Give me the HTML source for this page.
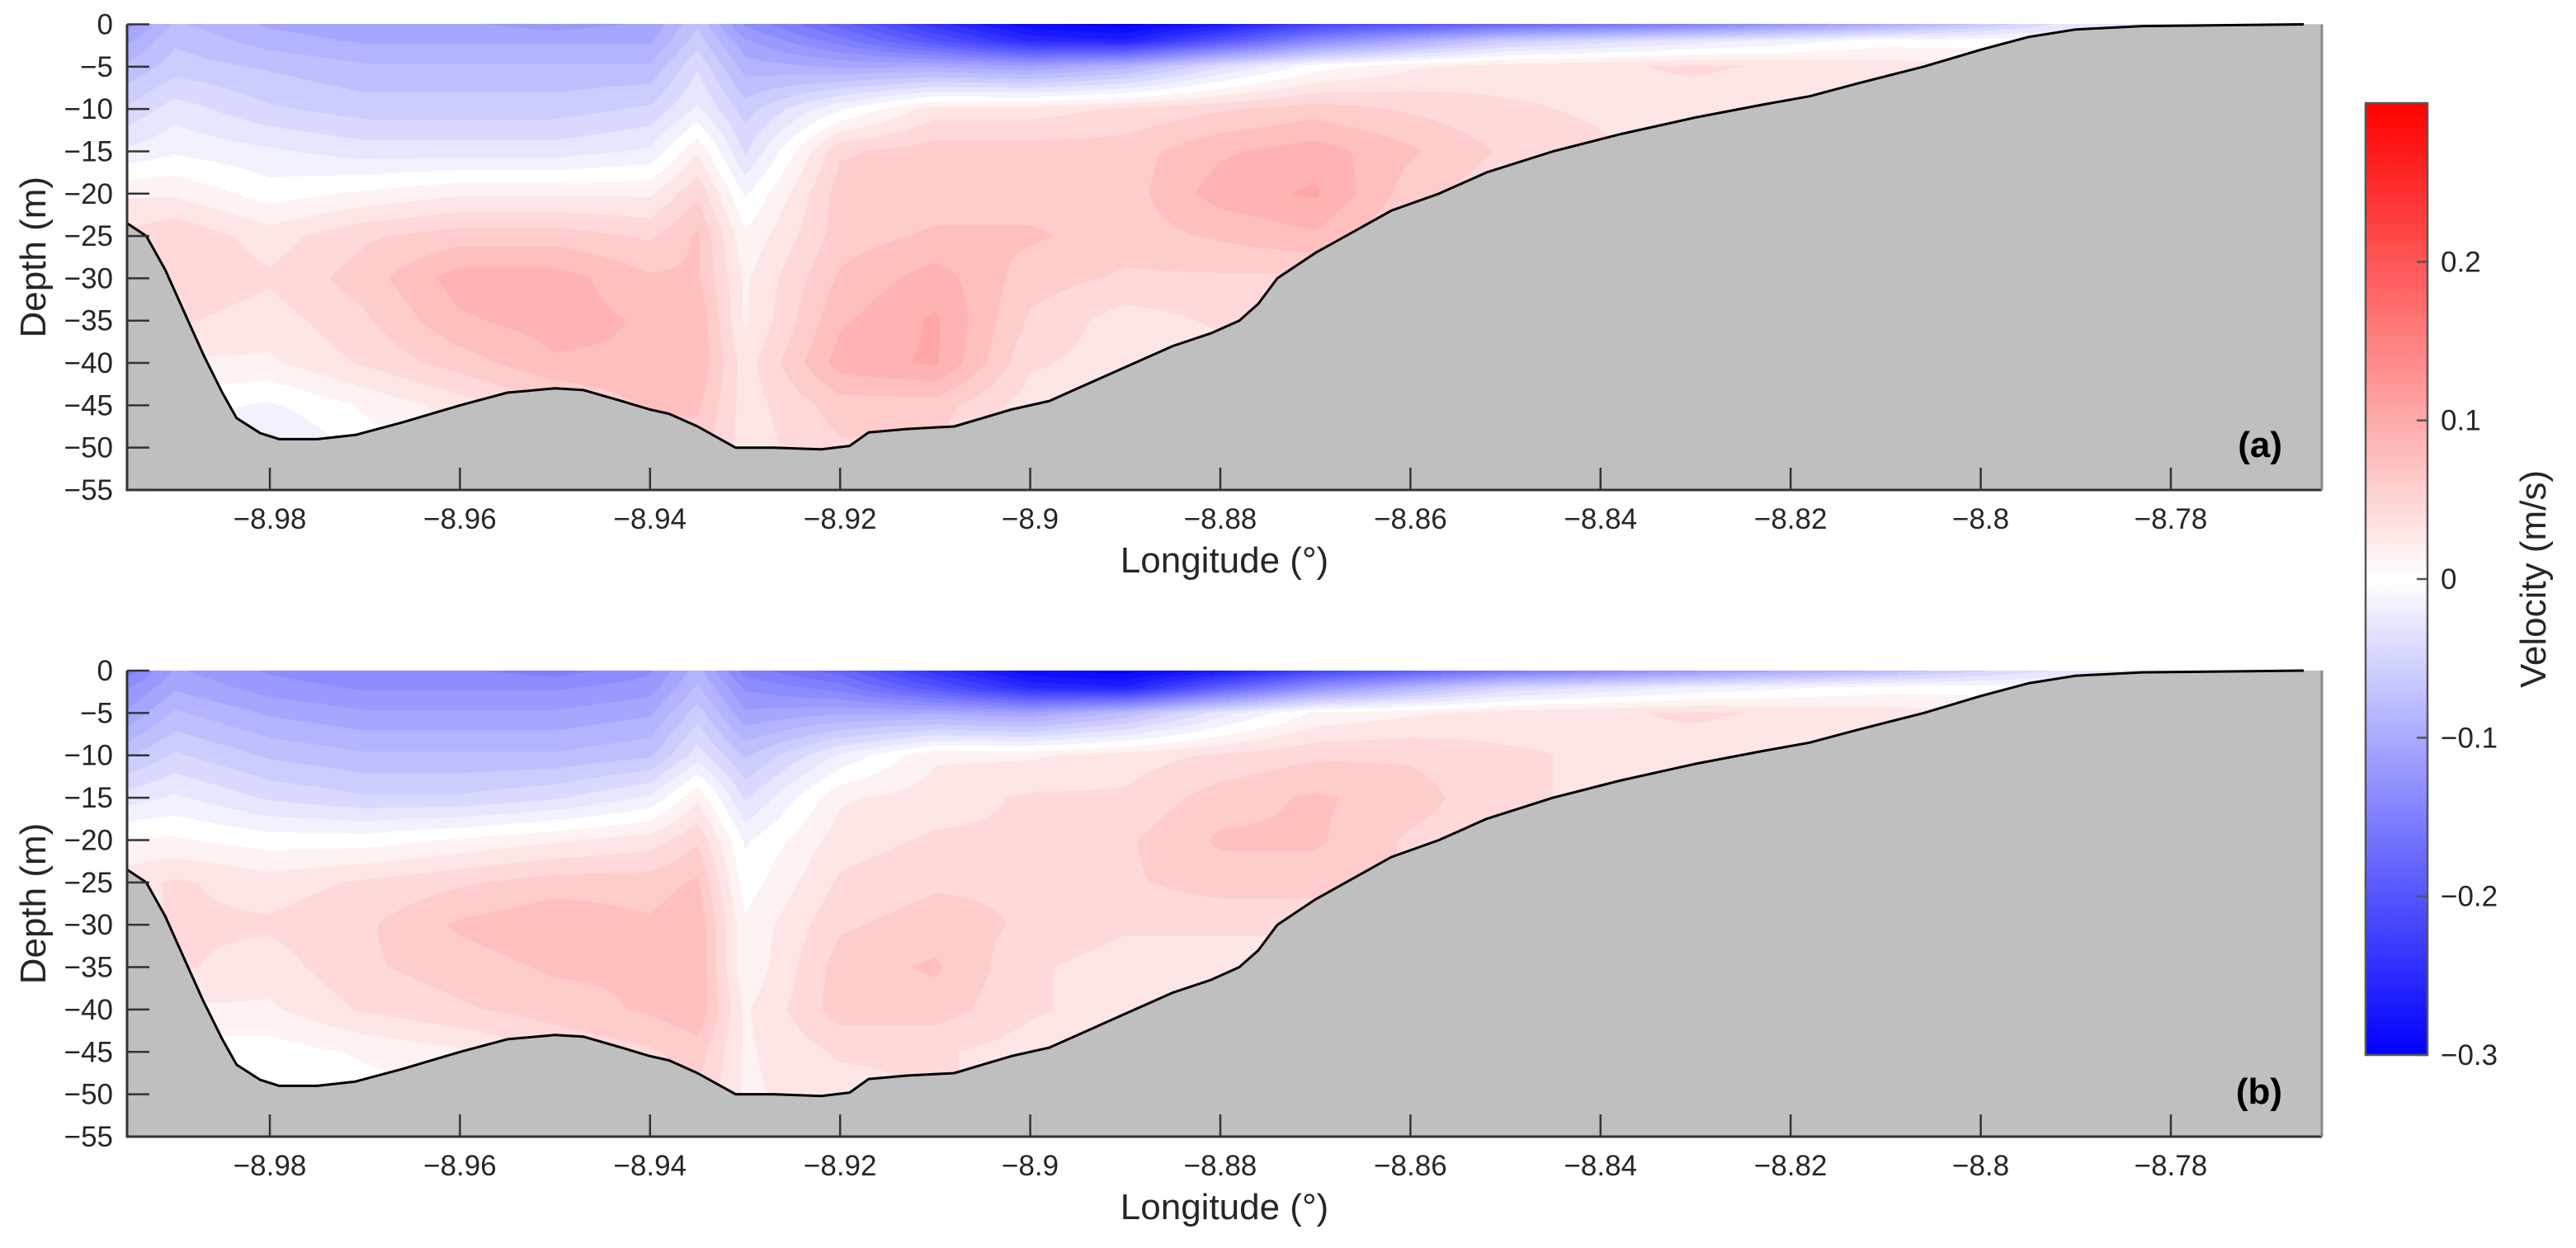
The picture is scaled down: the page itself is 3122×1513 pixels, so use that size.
<!DOCTYPE html>
<html><head><meta charset="utf-8">
<style>
html,body{margin:0;padding:0;background:#fff;}
body{width:3122px;height:1513px;position:relative;overflow:hidden;font-family:"Liberation Sans",sans-serif;}
canvas{position:absolute;}
svg{position:absolute;left:0;top:0;}
</style></head>
<body>
<canvas id="fieldA" width="2660" height="565" style="left:154px;top:29px"></canvas>
<canvas id="fieldB" width="2660" height="565" style="left:154px;top:813px"></canvas>
<svg id="chart" width="3122" height="1513" xmlns="http://www.w3.org/2000/svg"></svg>
<script>
// ---- data ----
const lons = [-8.995,-8.99,-8.98,-8.97,-8.96,-8.95,-8.94,-8.935,-8.93,-8.92,-8.91,-8.90,-8.89,-8.88,-8.87,-8.86,-8.85,-8.83,-8.81,-8.79];
const depths = [0,-2,-5,-10,-15,-20,-25,-30,-35,-40,-45,-50];
const velA = [
[-0.12,-0.08,-0.10,-0.11,-0.11,-0.12,-0.11,-0.07,-0.13,-0.18,-0.24,-0.29,-0.30,-0.27,-0.22,-0.20,-0.18,-0.15,-0.10,-0.03],
[-0.10,-0.07,-0.09,-0.10,-0.10,-0.10,-0.10,-0.06,-0.11,-0.15,-0.20,-0.25,-0.26,-0.20,-0.14,-0.10,-0.06,-0.03,0.00,0.00],
[-0.08,-0.06,-0.07,-0.08,-0.08,-0.08,-0.08,-0.04,-0.09,-0.10,-0.10,-0.11,-0.09,-0.04,0.00,0.02,0.03,0.04,0.03,0.02],
[-0.05,-0.03,-0.05,-0.06,-0.06,-0.06,-0.05,-0.02,-0.06,-0.01,0.03,0.03,0.04,0.05,0.06,0.05,0.04,0.03,0.02,0.01],
[-0.02,-0.01,-0.02,-0.03,-0.03,-0.03,-0.02,0.02,-0.04,0.05,0.06,0.06,0.06,0.08,0.09,0.07,0.05,0.03,0.02,0.01],
[0.02,0.02,0.00,0.01,0.02,0.02,0.02,0.05,-0.01,0.06,0.06,0.06,0.06,0.09,0.10,0.06,0.04,0.03,0.02,0.01],
[0.04,0.05,0.03,0.05,0.06,0.06,0.05,0.07,0.01,0.06,0.07,0.07,0.06,0.07,0.08,0.05,0.04,0.03,0.02,0.01],
[0.04,0.05,0.04,0.06,0.09,0.09,0.07,0.07,0.02,0.07,0.09,0.06,0.05,0.05,0.05,0.04,0.03,0.03,0.02,0.01],
[0.03,0.04,0.03,0.05,0.08,0.09,0.08,0.08,0.02,0.08,0.10,0.05,0.03,0.04,0.04,0.03,0.03,0.02,0.02,0.01],
[0.02,0.02,0.02,0.04,0.06,0.08,0.08,0.08,0.03,0.09,0.10,0.04,0.03,0.03,0.03,0.03,0.03,0.02,0.02,0.01],
[0.00,0.00,-0.01,0.01,0.03,0.05,0.07,0.07,0.03,0.06,0.06,0.03,0.03,0.03,0.03,0.03,0.03,0.02,0.02,0.01],
[-0.02,-0.02,-0.03,0.00,0.02,0.04,0.06,0.06,0.03,0.05,0.05,0.03,0.03,0.03,0.03,0.03,0.03,0.02,0.02,0.01]
];
const velB = [
[-0.15,-0.11,-0.13,-0.14,-0.14,-0.15,-0.13,-0.09,-0.15,-0.18,-0.24,-0.29,-0.30,-0.27,-0.22,-0.19,-0.16,-0.12,-0.08,-0.03],
[-0.13,-0.10,-0.12,-0.13,-0.13,-0.13,-0.12,-0.08,-0.13,-0.15,-0.20,-0.25,-0.26,-0.19,-0.13,-0.09,-0.05,-0.02,0.00,0.00],
[-0.11,-0.08,-0.10,-0.11,-0.11,-0.11,-0.10,-0.06,-0.11,-0.10,-0.10,-0.11,-0.08,-0.03,0.01,0.02,0.03,0.04,0.03,0.02],
[-0.07,-0.05,-0.07,-0.08,-0.08,-0.08,-0.07,-0.03,-0.07,-0.02,0.02,0.02,0.03,0.04,0.05,0.05,0.04,0.03,0.02,0.01],
[-0.03,-0.02,-0.04,-0.05,-0.05,-0.04,-0.02,0.02,-0.04,0.02,0.03,0.04,0.04,0.06,0.07,0.06,0.04,0.03,0.02,0.01],
[0.01,0.01,0.00,0.00,0.01,0.02,0.03,0.05,-0.01,0.03,0.04,0.04,0.05,0.07,0.07,0.05,0.04,0.03,0.02,0.01],
[0.03,0.04,0.03,0.04,0.05,0.06,0.06,0.07,0.00,0.04,0.05,0.05,0.05,0.06,0.06,0.05,0.04,0.03,0.02,0.01],
[0.03,0.04,0.04,0.05,0.07,0.08,0.07,0.08,0.01,0.05,0.06,0.05,0.04,0.04,0.04,0.04,0.03,0.03,0.02,0.01],
[0.02,0.04,0.03,0.05,0.06,0.07,0.07,0.08,0.01,0.06,0.07,0.04,0.03,0.03,0.03,0.03,0.03,0.02,0.02,0.01],
[0.01,0.02,0.02,0.04,0.05,0.06,0.07,0.08,0.02,0.06,0.06,0.04,0.03,0.03,0.03,0.03,0.03,0.02,0.02,0.01],
[0.00,0.00,0.00,0.01,0.02,0.04,0.05,0.06,0.02,0.04,0.04,0.03,0.03,0.03,0.03,0.03,0.03,0.02,0.02,0.01],
[-0.01,-0.01,-0.01,0.00,0.01,0.03,0.04,0.05,0.02,0.03,0.04,0.03,0.03,0.03,0.03,0.03,0.03,0.02,0.02,0.01]
];
const bathyLon = [-8.996,-8.995,-8.993,-8.991,-8.989,-8.987,-8.985,-8.9835,-8.981,-8.979,-8.975,-8.971,-8.966,-8.960,-8.955,-8.950,-8.947,-8.943,-8.940,-8.938,-8.935,-8.931,-8.927,-8.922,-8.919,-8.917,-8.913,-8.908,-8.905,-8.902,-8.898,-8.895,-8.892,-8.889,-8.885,-8.881,-8.878,-8.876,-8.874,-8.870,-8.866,-8.862,-8.857,-8.852,-8.845,-8.838,-8.830,-8.823,-8.818,-8.813,-8.806,-8.800,-8.795,-8.790,-8.783,-8.766];
const bathyDep = [-23.5,-23.5,-25,-29,-34,-39,-43.5,-46.5,-48.3,-49,-49,-48.5,-47,-45,-43.5,-43,-43.2,-44.5,-45.5,-46,-47.5,-50,-50,-50.2,-49.8,-48.2,-47.8,-47.5,-46.5,-45.5,-44.5,-43,-41.5,-40,-38,-36.5,-35,-33,-30,-27,-24.5,-22,-20,-17.5,-15,-13,-11,-9.5,-8.5,-7,-5,-3,-1.5,-0.6,-0.2,0];
const xTicks = [-8.98,-8.96,-8.94,-8.92,-8.90,-8.88,-8.86,-8.84,-8.82,-8.80,-8.78];
const xTickLabels = ["\u22128.98","\u22128.96","\u22128.94","\u22128.92","\u22128.9","\u22128.88","\u22128.86","\u22128.84","\u22128.82","\u22128.8","\u22128.78"];
const yTicks = [0,-5,-10,-15,-20,-25,-30,-35,-40,-45,-50,-55];
const cbTicks = [0.2,0.1,0,-0.1,-0.2,-0.3];
const cbTickLabels = ["0.2","0.1","0","\u22120.1","\u22120.2","\u22120.3"];

// ---- layout ----
const X0=154, X1=2814, LON0=-8.99502, LON1=-8.76411;
const panels=[{top:29.5,bot:594,vel:velA,canvas:'fieldA',tag:'(a)',id:'a'},{top:813,bot:1378,vel:velB,canvas:'fieldB',tag:'(b)',id:'b'}];
const xs = l => X0+(l-LON0)/(LON1-LON0)*(X1-X0);
const CB={x0:2867,x1:2942,top:125,bot:1279,vmin:-0.3,vmax:0.3};
const cbY = v => CB.bot-(v-CB.vmin)/(CB.vmax-CB.vmin)*(CB.bot-CB.top);
function col(v){
  const t=Math.max(-1,Math.min(1,v/0.3));
  const w=Math.round(255*(1-Math.abs(t)));
  return t>=0?[255,w,w]:[w,w,255];
}
function idx(arr,v,desc){
  const n=arr.length;
  for(let i=0;i<n-1;i++){
    const a=arr[i],b=arr[i+1];
    if(desc? (v<=a&&v>=b):(v>=a&&v<=b)) return [i,(v-a)/(b-a)];
  }
  if(desc? v>arr[0]:v<arr[0]) return [0,0];
  return [n-2,1];
}
const svg=document.getElementById('chart');
const NS='http://www.w3.org/2000/svg';
function el(tag,attrs,txt){const e=document.createElementNS(NS,tag);for(const k in attrs)e.setAttribute(k,attrs[k]);if(txt!==undefined)e.textContent=txt;svg.appendChild(e);return e;}

panels.forEach(p=>{
  const ys = d => p.top+(-d)/55*(p.bot-p.top);
  const cv=document.getElementById(p.canvas), ctx=cv.getContext('2d');
  const W=cv.width,H=cv.height, img=ctx.createImageData(W,H);
  const cx=[];for(let x=0;x<W;x++){const l=LON0+(x+0.5)/W*(LON1-LON0);cx.push(idx(lons,l,false));}
  for(let y=0;y<H;y++){
    const d=-(y+0.5)/H*55; const [j,g]=idx(depths,d,true);
    const r0=p.vel[j], r1=p.vel[j+1];
    for(let x=0;x<W;x++){
      const [i,f]=cx[x];
      const v=(r0[i]*(1-f)+r0[i+1]*f)*(1-g)+(r1[i]*(1-f)+r1[i+1]*f)*g;
      const q=Math.round(v/0.015)*0.015;
      const c=col(q); const o=(y*W+x)*4;
      img.data[o]=c[0];img.data[o+1]=c[1];img.data[o+2]=c[2];img.data[o+3]=255;
    }
  }
  ctx.putImageData(img,0,0);
  let pts=bathyLon.map((l,k)=>[xs(l),ys(bathyDep[k])]);
  let d='M'+X0+','+p.bot+' L'+X0+','+ys(bathyDep[0]);
  pts.forEach(q=>{d+=' L'+Math.max(X0,q[0]).toFixed(1)+','+q[1].toFixed(1);});
  d+=' L'+X1+','+ys(0)+' L'+X1+','+p.bot+' Z';
  const sb=el('path',{d:d,fill:'#bfbfbf',stroke:'none'});
  
  
  let ld='';pts.forEach((q,k)=>{ld+=(k?' L':'M')+Math.max(X0,q[0]).toFixed(1)+','+q[1].toFixed(1);});
  const bl=el('path',{d:ld,fill:'none',stroke:'#000','stroke-width':3,'stroke-linejoin':'round'});
  
  
  const ax=el('path',{d:`M${X0},${p.top} L${X0},${p.bot} L${X1},${p.bot}`,fill:'none',stroke:'#333','stroke-width':3});
  
  
  el('line',{x1:X1,y1:p.top,x2:X1,y2:p.bot,stroke:'#8a8a8a','stroke-width':3});
  yTicks.forEach(t=>{
    const y=ys(t);
    el('line',{x1:X0,y1:y,x2:X0+27,y2:y,stroke:'#333','stroke-width':2.5});
    const tl=el('text',{x:137,y:y+12,'text-anchor':'end','font-size':35,fill:'#262626'},t===0?'0':'\u2212'+(-t));
    
    
  });
  xTicks.forEach((t,k)=>{
    const x=xs(t);
    el('line',{x1:x,y1:p.bot,x2:x,y2:p.bot-27,stroke:'#333','stroke-width':2.5});
    const tl=el('text',{x:x,y:p.bot+47,'text-anchor':'middle','font-size':35,fill:'#262626'},xTickLabels[k]);
    
    
  });
  const xt=el('text',{x:(X0+X1)/2,y:p.bot+100,'text-anchor':'middle','font-size':44,fill:'#262626'},'Longitude (\u00b0)');
  
  
  const cy=(p.top+p.bot)/2;
  const yt=el('text',{x:55,y:cy,'text-anchor':'middle','font-size':44,fill:'#262626',transform:`rotate(-90 55 ${cy})`},'Depth (m)');
  
  
  const tg=el('text',{x:2766,y:p.bot-40,'text-anchor':'end','font-size':44,'font-weight':'bold',fill:'#000'},p.tag);
  
  
});

const defs=el('defs',{});
const lg=document.createElementNS(NS,'linearGradient');lg.setAttribute('id','cbg');lg.setAttribute('x1','0');lg.setAttribute('y1','1');lg.setAttribute('x2','0');lg.setAttribute('y2','0');
[[0,'#0000ff'],[0.5,'#ffffff'],[1,'#ff0000']].forEach(s=>{const st=document.createElementNS(NS,'stop');st.setAttribute('offset',s[0]);st.setAttribute('stop-color',s[1]);lg.appendChild(st);});
defs.appendChild(lg);
const cb=el('rect',{x:CB.x0,y:CB.top,width:CB.x1-CB.x0,height:CB.bot-CB.top,fill:'url(#cbg)',stroke:'#555','stroke-width':2.5});


cbTicks.forEach((t,k)=>{
  const y=cbY(t);
  el('line',{x1:CB.x1-13,y1:y,x2:CB.x1,y2:y,stroke:'#555','stroke-width':2.5});
  const tl=el('text',{x:2958,y:y+12,'font-size':35,fill:'#262626'},cbTickLabels[k]);
  
  
});
const cyc=(CB.top+CB.bot)/2;
const ct=el('text',{x:3085,y:cyc,'text-anchor':'middle','font-size':44,fill:'#262626',transform:`rotate(-90 3085 ${cyc})`},'Velocity (m/s)');


</script>
</body></html>
